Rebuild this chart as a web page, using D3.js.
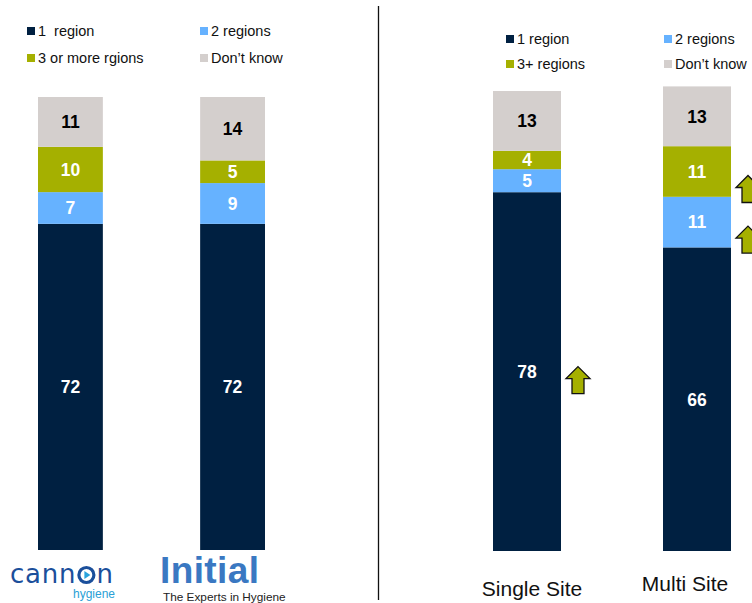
<!DOCTYPE html>
<html>
<head>
<meta charset="utf-8">
<script src="https://cdn.jsdelivr.net/npm/d3@7/dist/d3.min.js"></script>
<style>
  html, body { margin: 0; padding: 0; background: #fff; }
  svg { display: block; font-family: "Liberation Sans", Arial, sans-serif; }
</style>
</head>
<body>
<svg id="chart" width="752" height="603"></svg>
<script>
// Regional coverage by provider (left) and by site type (right), in %
const providers = ["Cannon", "Initial"];
const providerSeries = ["1  region", "2 regions", "3 or more rgions", "Don\u2019t know"];
const oneRegionProv = [72, 72];
const twoRegionsProv = [7, 9];
const threePlusProv = [10, 5];
const dontKnowProv = [11, 14];

const siteTypes = ["Single Site", "Multi Site"];
const siteSeries = ["1 region", "2 regions", "3+ regions", "Don\u2019t know"];
const oneRegionSite = [78, 66];
const twoRegionsSite = [5, 11];
const threePlusSite = [4, 11];
const dontKnowSite = [13, 13];

// Significantly higher results: [site type, series index]
const sigHigher = [["Single Site", 0], ["Multi Site", 1], ["Multi Site", 2]];

const colors = ["#002041", "#66b2ff", "#a5b000", "#d4cfcd"];
const labelColors = ["#fff", "#fff", "#fff", "#000"];

const svg = d3.select("#chart");

function stackRows(cats, arrays) {
  return cats.map((c, i) => {
    const row = { cat: c };
    arrays.forEach((a, k) => row["s" + k] = a[i]);
    return row;
  });
}

function drawPanel(opts) {
  const rows = stackRows(opts.cats, opts.arrays);
  const keys = opts.arrays.map((_, k) => "s" + k);
  const stacked = d3.stack().keys(keys)(rows);
  const x = d3.scaleBand().domain(opts.cats).range(opts.xRange).paddingInner(opts.padInner).paddingOuter(0);
  const y = d3.scaleLinear().domain([0, 100]).range(opts.yRange);

  const g = svg.append("g");
  stacked.forEach((layer, k) => {
    g.selectAll(null).data(layer).enter().append("rect")
      .attr("x", d => x(d.data.cat))
      .attr("width", x.bandwidth())
      .attr("y", d => y(d[1]))
      .attr("height", d => y(d[0]) - y(d[1]))
      .attr("fill", colors[k]);
    g.selectAll(null).data(layer).enter().append("text")
      .attr("x", d => x(d.data.cat) + x.bandwidth() / 2)
      .attr("y", d => (y(d[0]) + y(d[1])) / 2)
      .attr("dy", "0.36em")
      .attr("text-anchor", "middle")
      .attr("font-size", 17.5)
      .attr("font-weight", "bold")
      .attr("fill", labelColors[k])
      .text(d => d[1] - d[0]);
  });
  return { x, y, stacked };
}

function drawLegend(names, pos) {
  names.forEach((n, i) => {
    const p = pos[i];
    svg.append("rect").attr("x", p[0]).attr("y", p[1] - 9).attr("width", 8).attr("height", 8).attr("fill", colors[i]);
    svg.append("text").attr("x", p[0] + 11).attr("y", p[1]).attr("font-size", 14.5)
      .attr("fill", "#111").style("white-space", "pre").text(n);
  });
}

// Left panel: providers
drawPanel({
  cats: providers,
  arrays: [oneRegionProv, twoRegionsProv, threePlusProv, dontKnowProv],
  xRange: [38, 265], padInner: 0.6, yRange: [550, 97]
});
drawLegend(providerSeries, [[27, 36], [200, 36], [27, 63], [200, 63]]);

// Right panel: site types
const right = drawPanel({
  cats: siteTypes,
  arrays: [oneRegionSite, twoRegionsSite, threePlusSite, dontKnowSite],
  xRange: [493, 731], padInner: 0.6, yRange: [551, 91]
});
drawLegend(siteSeries, [[506, 44], [664, 44], [506, 69], [664, 69]]);

// Category labels under the site bars
svg.selectAll(null).data(siteTypes).enter().append("text")
  .attr("x", d => right.x(d) + right.x.bandwidth() / 2 + (d === "Single Site" ? 5 : -12))
  .attr("y", d => d === "Single Site" ? 596 : 591)
  .attr("text-anchor", "middle")
  .attr("font-size", 21)
  .attr("fill", "#111")
  .text(d => d);

// Up arrows beside significantly higher segments
const arrowPath = "M0,-14 L12,-2 L6,-2 L6,13 L-6,13 L-6,-2 L-12,-2 Z";
sigHigher.forEach(([cat, k]) => {
  const seg = right.stacked[k].find(d => d.data.cat === cat);
  const cy = (right.y(seg[0]) + right.y(seg[1])) / 2 + (k === 0 ? 9 : 18);
  const cx = right.x(cat) + right.x.bandwidth() + 17;
  svg.append("path").attr("d", arrowPath)
    .attr("transform", `translate(${cx},${cy})`)
    .attr("fill", "#a5b000").attr("stroke", "#111").attr("stroke-width", 1.3)
    .attr("stroke-linejoin", "miter");
});

// Divider between the panels
svg.append("line").attr("x1", 378.5).attr("x2", 378.5).attr("y1", 6).attr("y2", 600)
  .attr("stroke", "#111").attr("stroke-width", 1.3);

// Provider logos under the left bars
const cannon = svg.append("g");
const cannonBase = 583;
const cn1 = cannon.append("text").attr("x", 10).attr("y", cannonBase)
  .attr("font-size", 26).attr("font-family", "'DejaVu Sans', sans-serif")
  .attr("letter-spacing", 0.8).attr("fill", "#1b4f9b").text("cann");
const w1 = cn1.node().getComputedTextLength();
const ocx = 10 + w1 + 10, ocy = cannonBase - 8;
cannon.append("circle").attr("cx", ocx).attr("cy", ocy).attr("r", 7.5)
  .attr("fill", "none").attr("stroke", "#1b4f9b").attr("stroke-width", 3.2);
cannon.append("path").attr("d", `M${ocx - 2},${ocy - 4} L${ocx + 4},${ocy} L${ocx - 2},${ocy + 4} Z`).attr("fill", "#29a3dc");
cannon.append("text").attr("x", ocx + 10).attr("y", cannonBase)
  .attr("font-size", 26).attr("font-family", "'DejaVu Sans', sans-serif")
  .attr("fill", "#1b4f9b").text("n");
cannon.append("text").attr("x", 115).attr("y", 598).attr("text-anchor", "end")
  .attr("font-size", 12).attr("fill", "#2a9fd6").text("hygiene");

svg.append("text").attr("x", 160).attr("y", 583).attr("font-size", 37).attr("font-weight", "bold")
  .attr("letter-spacing", 0.4).attr("fill", "#3a78c2").text("Initial");
svg.append("text").attr("x", 163).attr("y", 601).attr("font-size", 11.8)
  .attr("fill", "#222").text("The Experts in Hygiene");
</script>
</body>
</html>
